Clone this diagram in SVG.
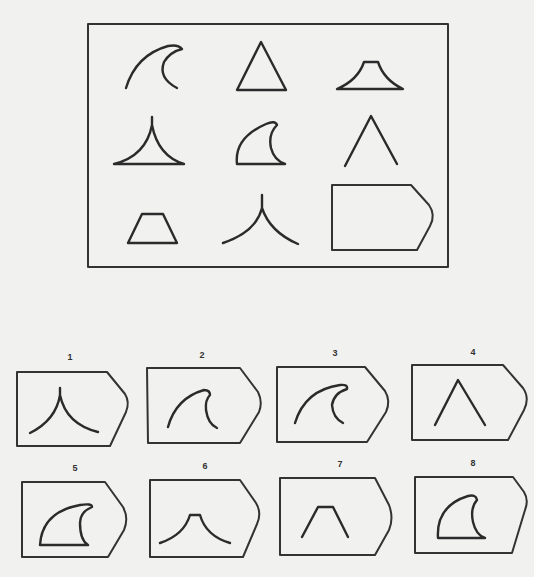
<svg xmlns="http://www.w3.org/2000/svg" width="534" height="577" viewBox="0 0 534 577">
<style>
.s{fill:none;stroke:#2b2b2b;stroke-width:2.4;stroke-linecap:round;stroke-linejoin:round}
.b{fill:none;stroke:#333;stroke-width:2;stroke-linejoin:round}
.l{font-family:"Liberation Sans",Arial,sans-serif;font-size:9px;font-weight:bold;fill:#333;text-anchor:middle}
</style>
<rect width="534" height="577" fill="#f1f1f0"/>
<g id="matrix">
<rect class="b" x="88" y="24" width="360" height="243"/>
<g id="m1"><path class="s" d="M126,88 Q136,55 168,46 Q178,44 182,49 Q170,52 164,62 Q158,78 177,88"/></g>
<g id="m2"><path class="s" d="M261,42 L237,90 H286 Z"/></g>
<g id="m3"><path class="s" d="M337,89 Q358,80 364,62 H378 Q384,80 403,89 Z"/></g>
<g id="m4"><path class="s" d="M152,117 V125 Q146,156 114,164 H184 Q158,156 152,125"/></g>
<g id="m5"><path class="s" d="M237,164 Q234,138 266,124 Q275,120 277,125 Q268,134 271,148 Q274,160 285,164 Z"/></g>
<g id="m6"><path class="s" d="M345,166 L371,116 L397,164"/></g>
<g id="m7"><path class="s" d="M128,243 L142,214 H163 L177,243 Z"/></g>
<g id="m8"><path class="s" d="M223,243 Q256,232 262,208 V195 M262,208 Q270,232 298,244"/></g>
<g id="m9"><path class="b" d="M332,185 H411 L429,205 Q436,215 430,226 L417,250 H332 Z"/></g>
</g>
<g id="options">
<g id="o1"><text class="l" x="70" y="360">1</text><path class="b" d="M17,372 H107 L125,394 Q130,402 126,412 L110,446 H17 Z"/><path class="s" d="M30,433 Q56,420 60,395 V388 M60,395 Q66,424 98,432"/></g>
<g id="o2"><text class="l" x="202" y="358">2</text><path class="b" d="M147,368 H240 L258,392 Q263,402 259,412 L240,443 H148 Z"/><path class="s" d="M168,427 Q176,398 204,390 Q210,390 210,395 Q205,400 206,410 Q208,424 217,428"/></g>
<g id="o3"><text class="l" x="335" y="356">3</text><path class="b" d="M277,367 H365 L385,391 Q391,401 386,412 L367,442 H277 Z"/><path class="s" d="M295,423 Q305,390 340,385 Q348,384 347,389 Q334,393 332,405 Q333,418 343,423"/></g>
<g id="o4"><text class="l" x="473" y="355">4</text><path class="b" d="M412,365 H503 L523,388 Q530,398 524,410 L508,440 H412 Z"/><path class="s" d="M435,425 L458,380 L485,425"/></g>
<g id="o5"><text class="l" x="75" y="471">5</text><path class="b" d="M22,482 H105 L123,507 Q129,518 124,530 L108,557 H22 Z"/><path class="s" d="M40,545 Q42,512 80,505 Q92,503 92,507 Q80,512 80,523 Q80,540 88,545 Z"/></g>
<g id="o6"><text class="l" x="205" y="469">6</text><path class="b" d="M150,480 H240 L256,503 Q262,513 257,524 L243,557 H150 Z"/><path class="s" d="M160,543 Q184,535 190,515 H200 Q206,536 230,543"/></g>
<g id="o7"><text class="l" x="340" y="467">7</text><path class="b" d="M280,478 H375 L389,505 Q394,518 389,530 L375,555 H280 Z"/><path class="s" d="M302,537 L318,507 H333 L348,537"/></g>
<g id="o8"><text class="l" x="473" y="466">8</text><path class="b" d="M415,477 H513 L524,492 Q529,500 525,510 L512,553 H415 Z"/><path class="s" d="M438,538 Q436,506 468,496 Q476,494 477,500 Q470,508 473,522 Q476,535 485,538 Z"/></g>
</g>
</svg>
